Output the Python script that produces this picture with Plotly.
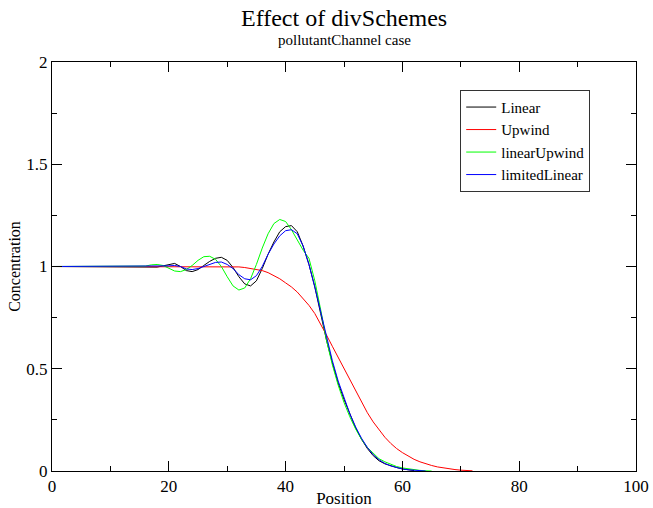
import plotly.graph_objects as go

# ---- data ----
x_linear = list(range(0, 63))
y_linear = [1.0] * 12 + [
    0.997, 1.0, 0.997, 1.0, 0.997, 1.0, 0.997, 1.003, 1.01, 1.015,   # 12-21
    1.0, 0.98, 0.975, 0.985, 1.005, 1.025, 1.04, 1.045, 1.03, 0.995,  # 22-31
    0.95, 0.915, 0.905, 0.93, 0.99, 1.06, 1.12, 1.17, 1.195, 1.2,     # 32-41
    1.17, 1.1, 1.01, 0.9, 0.77, 0.64, 0.53, 0.43, 0.35, 0.28,         # 42-51
    0.21, 0.155, 0.11, 0.075, 0.05, 0.035, 0.025, 0.017, 0.01, 0.005, # 52-61
    0.002,                                                            # 62
]

x_upwind = list(range(0, 73))
y_upwind = [1.0] * 31 + [
    0.999, 0.998, 0.995, 0.99, 0.985, 0.98, 0.97, 0.955, 0.94,        # 31-39
    0.92, 0.9, 0.875, 0.845, 0.81, 0.77, 0.72, 0.665, 0.61, 0.555,    # 40-49
    0.5, 0.445, 0.39, 0.335, 0.285, 0.24, 0.2, 0.165, 0.135, 0.11,    # 50-59
    0.09, 0.072, 0.057, 0.045, 0.035, 0.027, 0.02, 0.015, 0.01, 0.007,# 60-69
    0.004, 0.002, 0.001,                                              # 70-72
]

x_linup = list(range(0, 66))
y_linup = [1.0] * 16 + [
    1.002, 1.008, 1.01, 1.005,                                        # 16-19
    0.99, 0.978, 0.975, 0.985, 1.005, 1.03, 1.048, 1.05, 1.035, 1.0,  # 20-29
    0.95, 0.905, 0.885, 0.895, 0.94, 1.01, 1.09, 1.16, 1.21, 1.23,    # 30-39
    1.22, 1.18, 1.13, 1.08, 1.04, 0.93, 0.79, 0.64, 0.52, 0.42,       # 40-49
    0.335, 0.265, 0.205, 0.155, 0.115, 0.085, 0.06, 0.045, 0.032, 0.022, # 50-59
    0.015, 0.01, 0.006, 0.003, 0.001, 0.0,                            # 60-65
]

x_limlin = list(range(0, 65))
y_limlin = [1.0] * 20 + [
    1.003, 1.005, 1.0, 0.988, 0.985, 0.99, 1.0, 1.012, 1.02, 1.022,   # 20-29
    1.01, 0.99, 0.96, 0.94, 0.935, 0.955, 1.0, 1.06, 1.11, 1.15,      # 30-39
    1.175, 1.18, 1.16, 1.1, 1.01, 0.9, 0.78, 0.65, 0.54, 0.44,        # 40-49
    0.355, 0.28, 0.215, 0.16, 0.115, 0.08, 0.055, 0.037, 0.025, 0.016,# 50-59
    0.01, 0.006, 0.003, 0.001, 0.0,                                   # 60-64
]

series_names = ["Linear", "Upwind", "linearUpwind", "limitedLinear"]
series_colors = ["#000000", "#ff0000", "#00ff00", "#0000ff"]
series_x = [x_linear, x_upwind, x_linup, x_limlin]
series_y = [y_linear, y_upwind, y_linup, y_limlin]

x_ticks = [0, 20, 40, 60, 80, 100]
y_ticks = [0, 0.5, 1, 1.5, 2]
y_tick_text = ["0", "0.5", "1", "1.5", "2"]

FONT = "Liberation Serif, Times New Roman, serif"

fig = go.Figure()
for name, col, xs, ys in zip(series_names, series_colors, series_x, series_y):
    fig.add_trace(go.Scatter(x=xs, y=ys, mode="lines", name=name,
                             line=dict(color=col, width=1)))

axis_common = dict(
    showgrid=False, zeroline=False, showline=True, linecolor="black", linewidth=1,
    mirror="allticks", ticks="inside", ticklen=10, tickwidth=1, tickcolor="black",
    tickfont=dict(family=FONT, size=17, color="black"),
)

fig.update_layout(
    width=653, height=508,
    margin=dict(l=52, r=17, t=62, b=37),
    paper_bgcolor="white", plot_bgcolor="white",
    font=dict(family=FONT, color="black"),
    xaxis=dict(range=[0, 100], tickvals=x_ticks, automargin=False,
               minor=dict(ticks="inside", ticklen=5, tickcolor="black", dtick=10),
               title=dict(text="Position", font=dict(family=FONT, size=17), standoff=1),
               **axis_common),
    yaxis=dict(range=[0, 2], tickvals=y_ticks, ticktext=y_tick_text, automargin=False,
               minor=dict(ticks="inside", ticklen=5, tickcolor="black", dtick=0.25),
               title=dict(text="Concentration", font=dict(family=FONT, size=16), standoff=1),
               **axis_common),
    legend=dict(x=0.699, y=0.932, xanchor="left", yanchor="top",
                bgcolor="white", bordercolor="#333333", borderwidth=1,
                font=dict(family=FONT, size=15, color="black"),
                tracegroupgap=0),
    showlegend=True,
    annotations=[
        dict(text="Effect of divSchemes", xref="paper", yref="paper",
             x=0.5, y=1.0, yshift=29, xanchor="center", yanchor="bottom",
             showarrow=False, font=dict(family=FONT, size=24, color="black")),
        dict(text="pollutantChannel case", xref="paper", yref="paper",
             x=0.5, y=1.0, yshift=12, xanchor="center", yanchor="bottom",
             showarrow=False, font=dict(family=FONT, size=15, color="black")),
    ],
)

fig.write_html(
    "out.html",
    config={"displayModeBar": False},
    post_script="document.body.style.margin='0';document.body.style.overflow='hidden';",
)
